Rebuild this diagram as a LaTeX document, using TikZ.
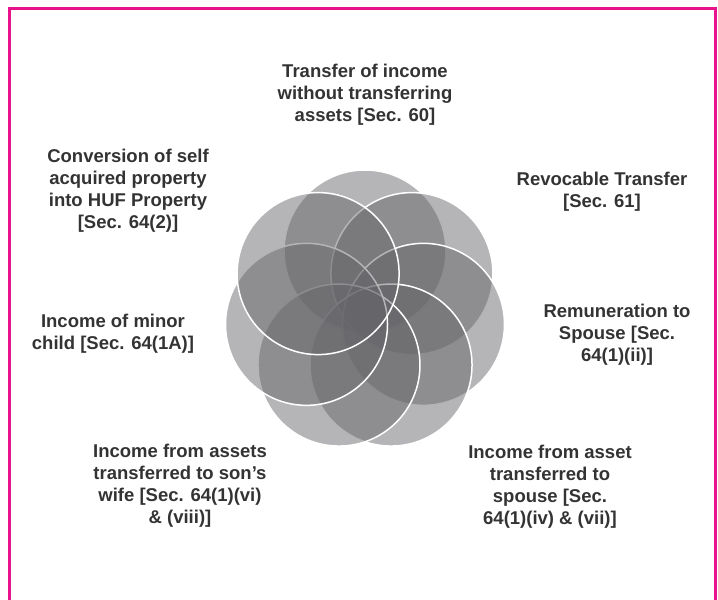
\documentclass[tikz,border=0pt]{standalone}
\usepackage{fontspec}
\setmainfont{Liberation Sans}
\usepackage{xcolor}
\usepackage{tikz}
\usetikzlibrary{calc,positioning}
\definecolor{framex}{HTML}{E8128C}
\definecolor{petalx}{HTML}{646468}
\definecolor{textx}{HTML}{333333}
\tikzset{
  petal/.style={circle,minimum size=162pt,inner sep=0pt,fill=petalx,fill opacity=0.48,draw=white,draw opacity=1,line width=1.5pt},
  lbl/.style={align=center,text=textx,font=\bfseries\fontsize{18.5}{22}\selectfont,inner sep=0pt}
}
\begin{document}
\begin{tikzpicture}[x=1pt,y=1pt]
\useasboundingbox (0,0) rectangle (718,600);
\draw[framex,line width=3pt] (9.5,0)--(9.5,591.5)--(715.5,591.5)--(715.5,0);
\coordinate (mid) at (365,289);
% seven petals, clockwise from the top
\foreach \k in {0,...,6}
  \node[petal] (p\k) at ($(mid)+({90-\k*360/7}:60)$) {};
\node[lbl] (t60) at (365,505) {Transfer of income\\without transferring\\assets [Sec. 60]};
\node[lbl] (t61) at (602,408) {Revocable Transfer\\[0pt][Sec. 61]};
\node[lbl] (tspouse) at (617,265) {Remuneration to\\Spouse [Sec.\\64(1)(ii)]};
\node[lbl] (tasset) at (550,113) {Income from asset\\transferred to\\spouse [Sec.\\64(1)(iv) \& (vii)]};
\node[lbl] (tson) at (180,114) {Income from assets\\transferred to son’s\\wife [Sec. 64(1)(vi)\\\& (viii)]};
\node[lbl] (tminor) at (113,266) {Income of minor\\child [Sec. 64(1A)]};
\node[lbl] (thuf) at (128,409) {Conversion of self\\acquired property\\into HUF Property\\[0pt][Sec. 64(2)]};
\end{tikzpicture}
\end{document}
